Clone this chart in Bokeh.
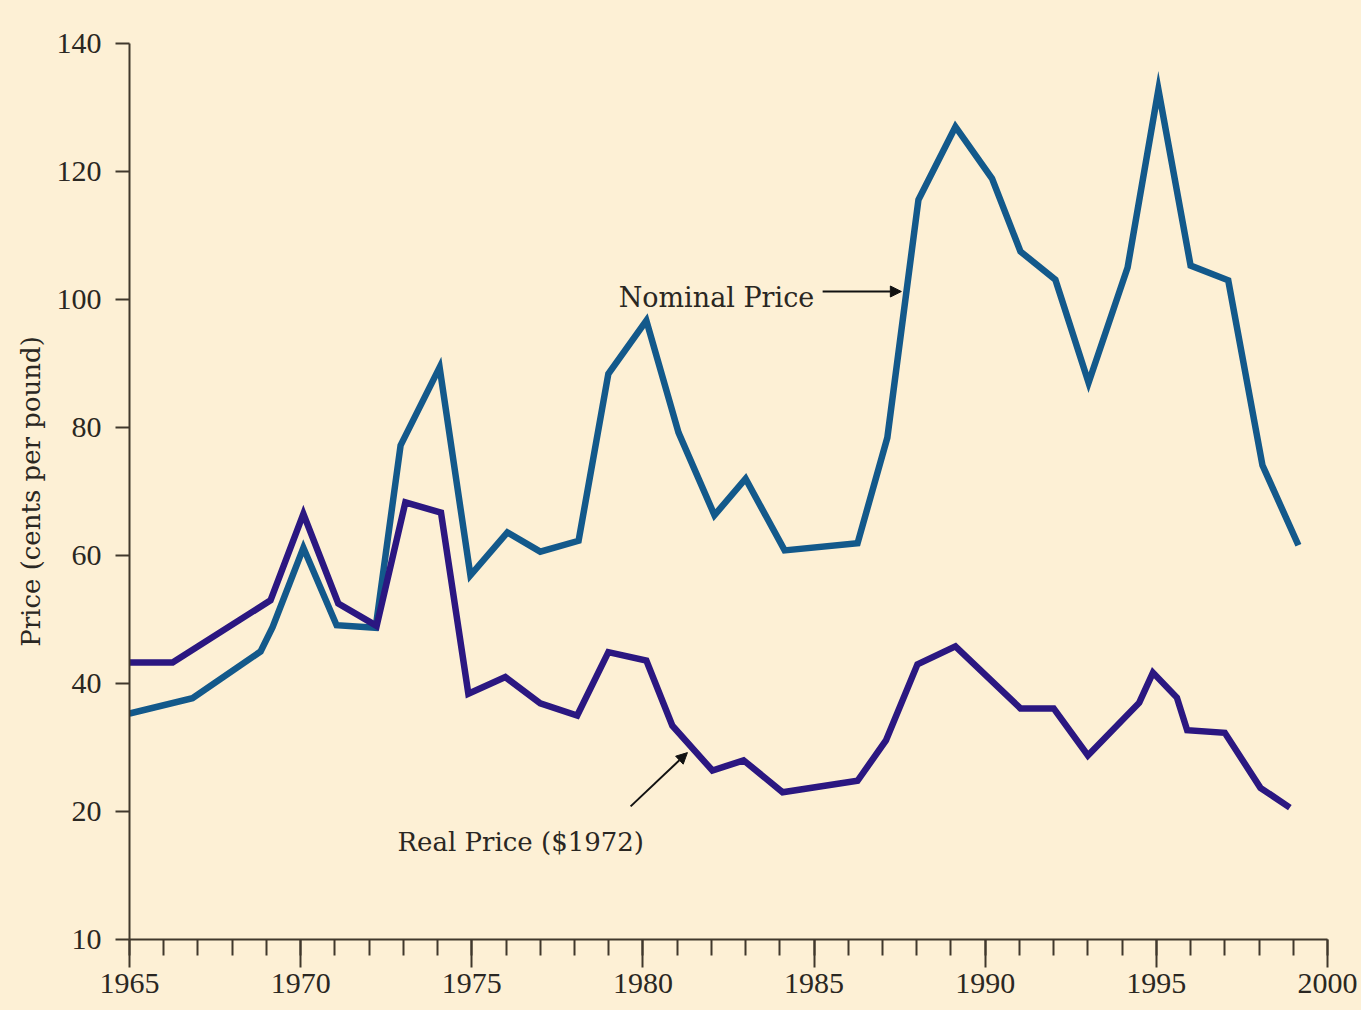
from bokeh.plotting import figure
from bokeh.models import Range1d, FixedTicker, SingleIntervalTicker, Arrow, NormalHead, Label
from bokeh.embed import file_html
from bokeh.resources import INLINE

# ---- data ----
nominal_years = [1965.0, 1966.84, 1968.83, 1969.18, 1970.08, 1971.05, 1972.19, 1972.92, 1974.06,
                 1974.96, 1976.04, 1977.0, 1978.12, 1978.99, 1980.1, 1981.04, 1982.09, 1983.0,
                 1984.14, 1986.27, 1987.14, 1988.05, 1989.13, 1990.2, 1991.03, 1992.05, 1993.02,
                 1994.16, 1995.06, 1996.0, 1997.1, 1998.1, 1999.15]
nominal_price = [35.3, 37.7, 45.0, 48.8, 61.2, 49.1, 48.7, 77.2, 89.4,
                 56.9, 63.6, 60.6, 62.3, 88.4, 96.7, 79.2, 66.3, 72.0,
                 60.8, 61.9, 78.4, 115.6, 127.0, 118.9, 107.5, 103.1, 87.0,
                 105.0, 132.8, 105.3, 103.0, 74.1, 61.6]

real_years = [1965.0, 1966.26, 1969.12, 1970.08, 1971.1, 1972.22, 1973.06, 1974.1, 1974.9,
              1975.98, 1977.0, 1978.08, 1978.99, 1980.1, 1980.86, 1982.03, 1982.94, 1984.08,
              1986.27, 1987.1, 1988.02, 1989.13, 1991.03, 1992.0, 1993.0, 1994.5, 1994.9,
              1995.6, 1995.9, 1997.0, 1998.04, 1998.9]
real_price = [43.3, 43.3, 53.0, 66.5, 52.5, 49.0, 68.3, 66.7, 38.4,
              41.0, 36.9, 35.0, 44.9, 43.6, 33.4, 26.4, 28.0, 23.0,
              24.8, 31.1, 43.0, 45.8, 36.1, 36.1, 28.75, 37.0, 41.7,
              37.8, 32.7, 32.3, 23.7, 20.6]

y_ticks = [0, 20, 40, 60, 80, 100, 120, 140]
y_tick_labels = {0: "10"}
y_title = "Price (cents per pound)"
nominal_label = "Nominal Price"
real_label = "Real Price ($1972)"

BG = "#fdf0d5"
AXIS = "#40382c"
TXT = "#2a2722"
BLUE = "#13598b"
PURPLE = "#2b1781"

p = figure(width=1361, height=1010, output_backend="svg", toolbar_location=None,
           x_range=Range1d(1965, 2000), y_range=Range1d(0, 140),
           min_border_left=129, min_border_right=34, min_border_top=43, min_border_bottom=71)
p.background_fill_color = BG
p.border_fill_color = BG
p.outline_line_color = None
p.xgrid.visible = False
p.ygrid.visible = False

# x axis
xa = p.xaxis[0]
xa.ticker = SingleIntervalTicker(interval=5, num_minor_ticks=5)
xa.axis_line_color = AXIS
xa.axis_line_width = 2
xa.major_tick_line_color = AXIS
xa.major_tick_line_width = 2
xa.minor_tick_line_color = AXIS
xa.minor_tick_line_width = 2
xa.major_tick_in = 0
xa.major_tick_out = 28
xa.minor_tick_in = 0
xa.minor_tick_out = 16
xa.major_label_text_font = "Liberation Serif"
xa.major_label_text_font_size = "30px"
xa.major_label_text_color = TXT
xa.major_label_standoff = 6

# y axis
ya = p.yaxis[0]
ya.ticker = FixedTicker(ticks=y_ticks)
ya.major_label_overrides = y_tick_labels
ya.axis_line_color = AXIS
ya.axis_line_width = 2
ya.major_tick_line_color = AXIS
ya.major_tick_line_width = 2
ya.minor_tick_line_color = None
ya.major_tick_in = 0
ya.major_tick_out = 14
ya.major_label_text_font = "Liberation Serif"
ya.major_label_text_font_size = "30px"
ya.major_label_text_color = TXT
ya.major_label_standoff = 14
ya.axis_label = y_title
ya.axis_label_text_font = "DejaVu Serif"
ya.axis_label_text_font_style = "normal"
ya.axis_label_text_font_size = "26px"
ya.axis_label_text_color = TXT
ya.axis_label_standoff = 8

# series
p.line(nominal_years, nominal_price, line_width=6.5, line_color=BLUE, line_join="miter")
p.line(real_years, real_price, line_width=6.5, line_color=PURPLE, line_join="miter")

# annotations
p.add_layout(Label(x=1979.29, y=100.3, text=nominal_label, text_font="DejaVu Serif",
                   text_font_size="27px", text_color=TXT, text_baseline="alphabetic"))
p.add_layout(Label(x=1972.83, y=15.2, text=real_label, text_font="DejaVu Serif",
                   text_font_size="26px", text_color=TXT, text_baseline="alphabetic"))
p.add_layout(Arrow(x_start=1985.25, y_start=101.25, x_end=1987.55, y_end=101.25,
                   line_color="#111111", line_width=2,
                   end=NormalHead(size=11, fill_color="#111111", line_color="#111111")))
p.add_layout(Arrow(x_start=1979.64, y_start=20.8, x_end=1981.30, y_end=29.2,
                   line_color="#111111", line_width=2,
                   end=NormalHead(size=11, fill_color="#111111", line_color="#111111")))

html = file_html(p, INLINE)
html = html.replace("</head>", "<style>html,body{background:%s}</style></head>" % BG, 1)
open("out.html", "w").write(html)
